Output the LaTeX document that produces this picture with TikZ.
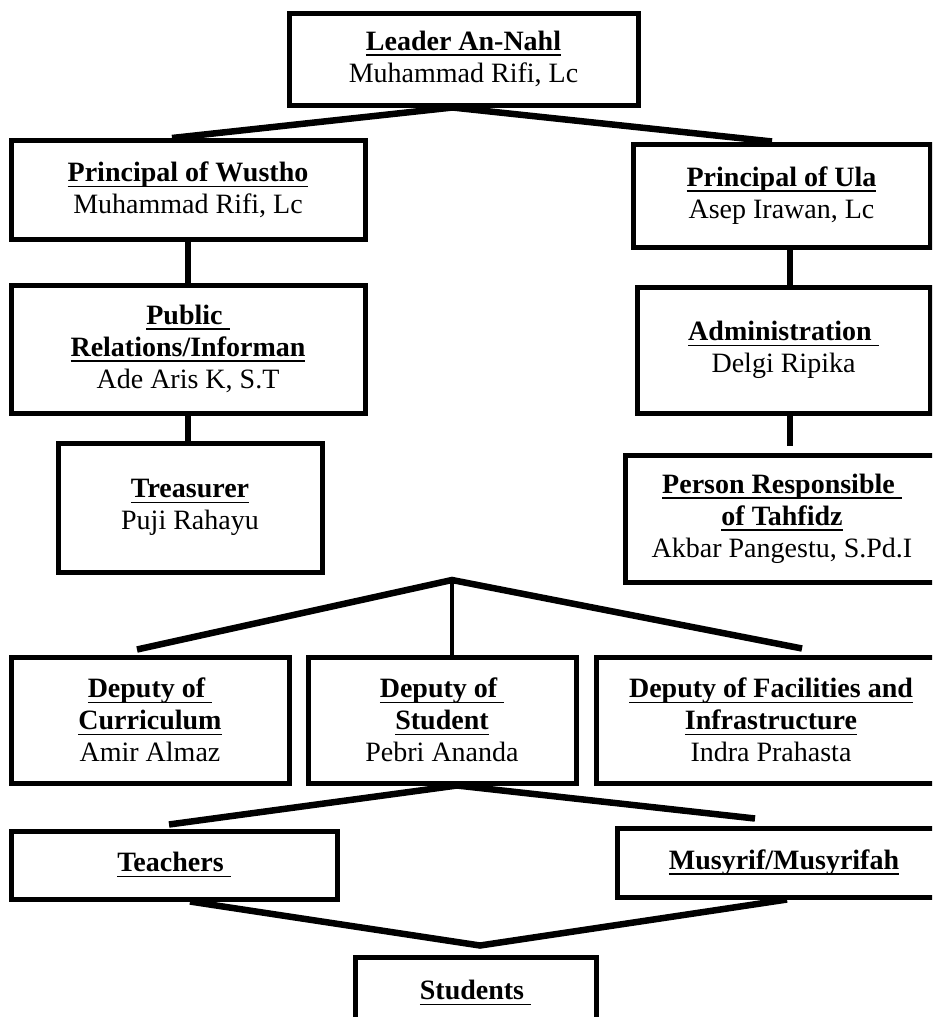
\documentclass[tikz,border=0pt]{standalone}
\usepackage{fontspec}
\setmainfont{Liberation Serif}
\newcommand{\ttl}[1]{\textbf{\setbox0\hbox{#1}\leavevmode\rlap{\rule[-5.5pt]{\wd0}{1.6pt}}\box0}}
\begin{document}
\begin{tikzpicture}[x=1pt,y=1pt,
  box/.style={draw=black, line width=5pt, fill=white, inner sep=0pt, align=center,
    font=\fontsize{28}{32}\selectfont},
  conn/.style={draw=black, line width=6.5pt},
  thinconn/.style={draw=black, line width=4pt}]
\clip (0,0) rectangle (932,-1017);
\fill[white] (0,0) rectangle (932,-1017);

\node[box, minimum width=349, minimum height=92] (leader) at (463.5,-59)
  {\ttl{Leader An-Nahl}\\Muhammad Rifi, Lc};
\node[box, minimum width=354, minimum height=99] (wustho) at (188,-190)
  {\ttl{Principal of Wustho}\\Muhammad Rifi, Lc};
\node[box, minimum width=297, minimum height=103] (ula) at (781.5,-195.5)
  {\ttl{Principal of Ula}\\Asep Irawan, Lc};
\node[box, minimum width=354, minimum height=128] (pr) at (188,-349)
  {\ttl{Public\ }\\\ttl{Relations/Informan}\\Ade Aris K, S.T};
\node[box, minimum width=293, minimum height=126] (admin) at (783.5,-350)
  {\ttl{Administration\ }\\Delgi Ripika};
\node[box, minimum width=264, minimum height=129] (treas) at (190,-507.5)
  {\ttl{Treasurer}\\Puji Rahayu};
\node[box, minimum width=314, minimum height=127] (person) at (782,-518.5)
  {\ttl{Person Responsible\ }\\\ttl{of Tahfidz}\\Akbar Pangestu, S.Pd.I};
\node[box, minimum width=278, minimum height=126] (dep1) at (150,-720)
  {\ttl{Deputy of\ }\\\ttl{Curriculum}\\Amir Almaz};
\node[box, minimum width=268, minimum height=126] (dep2) at (442,-720)
  {\ttl{Deputy of\ }\\\ttl{Student}\\Pebri Ananda};
\node[box, minimum width=350, minimum height=126] (dep3) at (771,-720)
  {\ttl{Deputy of Facilities and}\\\ttl{Infrastructure}\\Indra Prahasta};
\node[box, minimum width=326, minimum height=68] (teach) at (174,-865)
  {\ttl{Teachers\ }};
\node[box, minimum width=334, minimum height=69] (mus) at (784,-862.5)
  {\ttl{Musyrif/Musyrifah}};
\node[box, minimum width=241, minimum height=72] (stud) at (475.5,-993)
  {\ttl{Students\ }};

% connectors
\coordinate (fanA) at (452,-580);
\coordinate (adminEnd) at ([xshift=6.5pt,yshift=-30pt]admin.south);
\coordinate (botApex) at ([xshift=4.5pt,yshift=9pt]stud.north);

\draw[conn] ([xshift=-16pt]wustho.north) -- ([xshift=-11pt]leader.south) -- ([xshift=-9.5pt]ula.north);
\draw[conn] (wustho.south) -- (pr.north);
\draw[conn] (pr.south) -- (pr.south |- treas.north);
\draw[conn] ([xshift=8.5pt]ula.south) -- ([xshift=6.5pt]admin.north);
\draw[conn] ([xshift=6.5pt]admin.south) -- (adminEnd);
\draw[conn] ([xshift=-13pt,yshift=5pt]dep1.north) -- (fanA) -- ([xshift=31pt,yshift=6pt]dep3.north);
\draw[thinconn] (fanA) -- ([xshift=10pt]dep2.north);
\draw[conn] ([xshift=-5pt,yshift=4pt]teach.north) -- ([xshift=15pt]dep2.south) -- ([xshift=-29pt,yshift=7pt]mus.north);
\draw[conn] ([xshift=16pt]teach.south) -- (botApex) -- ([xshift=3pt]mus.south);
\end{tikzpicture}
\end{document}
